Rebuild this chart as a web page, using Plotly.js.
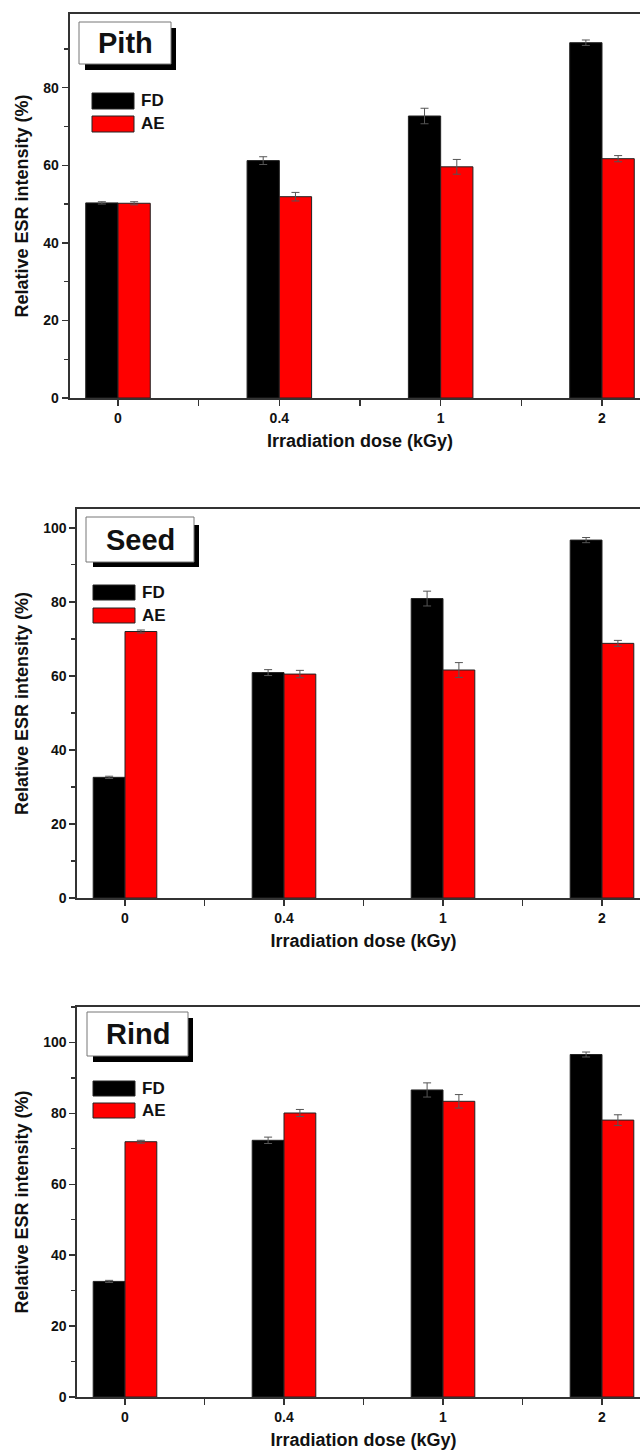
<!DOCTYPE html>
<html>
<head>
<meta charset="utf-8">
<script src="https://cdn.plot.ly/plotly-3.0.1.min.js"></script>
<style>
html,body{margin:0;padding:0;overflow:hidden;background:#fff;width:640px;height:1451px;}
#chart{width:660px;height:1451px;}
</style>
</head>
<body>
<div id="chart"></div>
<script>
// ---- data ----
const categories = ['0', '0.4', '1', '2'];
const seriesNames = ['FD', 'AE'];
const panelNames = ['Pith', 'Seed', 'Rind'];

const pithFD = [50.3, 61.2, 72.7, 91.6];
const pithFDerr = [0.3, 1.0, 2.0, 0.7];
const pithAE = [50.2, 51.9, 59.6, 61.7];
const pithAEerr = [0.4, 1.1, 1.9, 0.8];

const seedFD = [32.6, 60.9, 80.9, 96.7];
const seedFDerr = [0.3, 0.8, 2.0, 0.7];
const seedAE = [72.0, 60.5, 61.6, 68.8];
const seedAEerr = [0.4, 1.0, 2.0, 0.8];

const rindFD = [32.6, 72.4, 86.6, 96.6];
const rindFDerr = [0.3, 0.9, 2.0, 0.7];
const rindAE = [72.0, 80.1, 83.4, 78.1];
const rindAEerr = [0.4, 1.0, 1.9, 1.5];

const xTitle = 'Irradiation dose (kGy)';
const yTitle = 'Relative ESR intensity (%)';

// ---- layout helpers ----
const W = 660, H = 1451;
const FONT = 'Liberation Sans, Arial, Helvetica, sans-serif';
const px = v => v / W;
const py = v => 1 - v / H;

const colors = ['#000000', '#ff0000'];
const panels = [
  {fd: pithFD, fde: pithFDerr, ae: pithAE, aee: pithAEerr, xd: [69.6, 650.4], yd: [14, 398], yr: [0, 99],
   box: [79, 22, 171, 64], sw: [85, 28, 176, 70], leg: [92, 134, 93, 109, 116, 132]},
  {fd: seedFD, fde: seedFDerr, ae: seedAE, aee: seedAEerr, xd: [77.3, 649.7], yd: [509, 898], yr: [0, 105.1],
   box: [86, 517, 194, 562], sw: [93, 525, 199, 567], leg: [93, 135, 585, 600, 608, 623]},
  {fd: rindFD, fde: rindFDerr, ae: rindAE, aee: rindAEerr, xd: [77.3, 649.7], yd: [1007, 1397], yr: [0, 110],
   box: [87, 1012, 188, 1056], sw: [93, 1018, 193, 1062], leg: [93, 135, 1081, 1096, 1103, 1118]}
];

const xIdx = categories.map((c, i) => i);
const traces = [];
const shapes = [];
const annotations = [];
const layout = {
  width: W, height: H,
  margin: {l: 0, r: 0, t: 0, b: 0},
  paper_bgcolor: '#ffffff', plot_bgcolor: '#ffffff',
  barmode: 'group', bargap: 0.6, bargroupgap: 0,
  showlegend: false,
  font: {family: FONT, color: '#111'}
};

panels.forEach((p, k) => {
  const sfx = k === 0 ? '' : String(k + 1);
  const xa = 'x' + sfx, ya = 'y' + sfx;
  [[p.fd, p.fde], [p.ae, p.aee]].forEach((d, j) => {
    traces.push({
      type: 'bar', name: seriesNames[j], x: xIdx, y: d[0],
      xaxis: xa, yaxis: ya,
      marker: {color: colors[j], line: {color: '#222', width: 1}},
      error_y: {type: 'data', array: d[1], visible: true, color: '#555', thickness: 1, width: 4},
      hoverinfo: 'skip'
    });
  });
  layout['xaxis' + sfx] = {
    domain: [px(p.xd[0]), px(p.xd[1])], anchor: ya,
    range: [-0.3, 3.3], tickmode: 'array', tickvals: xIdx, ticktext: categories,
    ticks: 'outside', ticklen: 6, tickwidth: 1.5, tickcolor: '#333',
    minor: {tickvals: [0.5, 1.5, 2.5], ticks: 'outside', ticklen: 6, tickwidth: 1.5, tickcolor: '#333'},
    showline: true, linecolor: '#333', linewidth: 2, mirror: true,
    showgrid: false, zeroline: false,
    tickfont: {family: FONT, size: 14, weight: 'bold', color: '#111'},
    title: {text: xTitle, font: {family: FONT, size: 18, weight: 'bold', color: '#111'}, standoff: 10}
  };
  layout['yaxis' + sfx] = {
    domain: [py(p.yd[1]), py(p.yd[0])], anchor: xa,
    range: p.yr, tickmode: 'linear', tick0: 0, dtick: 20,
    ticks: 'outside', ticklen: 6, tickwidth: 1.5, tickcolor: '#333',
    minor: {dtick: 10, ticks: 'outside', ticklen: 4, tickwidth: 1.2, tickcolor: '#333'},
    showline: true, linecolor: '#333', linewidth: 2, mirror: true,
    showgrid: false, zeroline: false,
    tickfont: {family: FONT, size: 14, weight: 'bold', color: '#111'},
    title: {text: yTitle, font: {family: FONT, size: 18, weight: 'bold', color: '#111'}, standoff: 10}
  };

  // label box with shadow
  shapes.push({type: 'rect', xref: 'paper', yref: 'paper', x0: px(p.sw[0]), x1: px(p.sw[2]), y0: py(p.sw[3]), y1: py(p.sw[1]),
    fillcolor: '#000', line: {width: 0}});
  shapes.push({type: 'rect', xref: 'paper', yref: 'paper', x0: px(p.box[0]), x1: px(p.box[2]), y0: py(p.box[3]), y1: py(p.box[1]),
    fillcolor: '#fff', line: {color: '#777', width: 1}});
  annotations.push({xref: 'paper', yref: 'paper', x: px((p.box[0] + p.box[2]) / 2), y: py((p.box[1] + p.box[3]) / 2),
    text: panelNames[k], showarrow: false, xanchor: 'center', yanchor: 'middle',
    font: {family: FONT, size: 29, weight: 'bold', color: '#111'}});

  // legend swatches
  const L = p.leg;
  [[L[2], L[3]], [L[4], L[5]]].forEach((yy, j) => {
    shapes.push({type: 'rect', xref: 'paper', yref: 'paper', x0: px(L[0]), x1: px(L[1]), y0: py(yy[1]), y1: py(yy[0]),
      fillcolor: colors[j], line: {color: '#222', width: 1}});
    annotations.push({xref: 'paper', yref: 'paper', x: px(L[1] + 5), y: py((yy[0] + yy[1]) / 2),
      text: seriesNames[j], showarrow: false, xanchor: 'left', yanchor: 'middle',
      font: {family: FONT, size: 17, weight: 'bold', color: '#111'}});
  });
});

layout.shapes = shapes;
layout.annotations = annotations;

Plotly.newPlot('chart', traces, layout, {displayModeBar: false, staticPlot: true});
</script>
</body>
</html>
